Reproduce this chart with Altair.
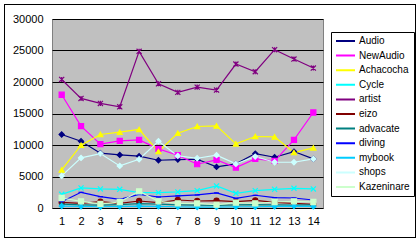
import altair as alt
import pandas as pd

periods = list(range(1, 15))

series_names = ["Audio", "NewAudio", "Achacocha", "Cycle", "artist", "eizo",
                "advacate", "diving", "mybook", "shops", "Kazeninare"]
series_colors = ["#000080", "#FF00FF", "#FFFF00", "#00FFFF", "#800080", "#800000",
                 "#008080", "#0000FF", "#00CCFF", "#CCFFFF", "#CCFFCC"]
series_shapes = ["diamond", "square", "triangle-up", "M-1,-1L1,1M-1,1L1,-1",
                 "M-1,-1L1,1M-1,1L1,-1M0,-1L0,1", "circle", "M-1,0L1,0M0,-1L0,1",
                 "M-1,0L1,0", "diamond", "diamond", "square"]

audio = [11670, 10600, 8700, 8430, 8220, 7580, 7690, 7740, 6520, 7000, 8640, 8060, 8960, 7790]
newaudio = [17980, 12990, 10130, 10660, 10820, 9390, 8380, 6950, 7640, 6420, 7790, 7480, 10820, 15160]
achacocha = [6040, 9970, 11670, 12040, 12460, 8960, 11880, 12940, 13040, 10180, 11350, 11290, 8800, 9540]
cycle = [2170, 3180, 3020, 2970, 2440, 2440, 2550, 2760, 3500, 2330, 2760, 2970, 3130, 3020]
artist = [20400, 17390, 16600, 16070, 24870, 19720, 18350, 19190, 18720, 22850, 21630, 25130, 23650, 22220]
eizo = [900, 740, 1000, 740, 1110, 850, 1270, 1110, 1170, 1000, 1220, 900, 740, 580]
advacate = [600, 500, 450, 550, 700, 600, 500, 450, 400, 500, 550, 500, 450, 500]
diving = [1000, 2490, 1800, 1380, 2170, 1750, 1910, 2070, 2390, 1540, 2020, 1640, 1590, 1270]
mybook = [300, 250, 200, 250, 300, 250, 200, 150, 150, 200, 200, 250, 300, 250]
shops = [5090, 7950, 8640, 6680, 7740, 10600, 8270, 7900, 8380, 7000, 8170, 7260, 7260, 7790]
kazeninare = [1590, 1060, 640, 950, 2650, 1060, 740, 740, 530, 850, 740, 950, 1060, 950]

all_values = [audio, newaudio, achacocha, cycle, artist, eizo, advacate, diving,
              mybook, shops, kazeninare]

rows = []
for name, vals in zip(series_names, all_values):
    for p, v in zip(periods, vals):
        rows.append({"period": p, "series": name, "value": v})
df = pd.DataFrame(rows)

FONT = "Liberation Sans"

x_enc = alt.X("period:O", title=None,
              axis=alt.Axis(labelAngle=0, domain=False, ticks=False, grid=False,
                            labelPadding=7, labelFontSize=11, labelFont=FONT,
                            labelColor="black"))
y_enc = alt.Y("value:Q", title=None,
              scale=alt.Scale(domain=[0, 30000], nice=False),
              axis=alt.Axis(values=[0, 5000, 10000, 15000, 20000, 25000, 30000],
                            format="d",
                            grid=True, gridColor="black", gridWidth=1, gridOpacity=1,
                            domain=False, ticks=False, labelPadding=9,
                            labelFontSize=11, labelFont=FONT, labelColor="black"))

base = alt.Chart(df)

lines = base.mark_line(strokeWidth=1.2).encode(
    x=x_enc,
    y=y_enc,
    color=alt.Color("series:N", scale=alt.Scale(domain=series_names, range=series_colors),
                    sort=series_names,
                    legend=alt.Legend(title=None, orient="none", legendX=279, legendY=13,
                                      fillColor="white", strokeColor="black",
                                      padding=4, symbolType="stroke", symbolSize=361,
                                      symbolStrokeWidth=2, labelFontSize=10,
                                      labelFont=FONT, labelColor="black",
                                      clipHeight=10, rowPadding=4.6, labelOffset=3)),
    detail="series:N",
)

point_layers = []
for name, col, shp in zip(series_names, series_colors, series_shapes):
    point_layers.append(
        base.transform_filter(alt.datum.series == name)
        .mark_point(filled=True, size=26, strokeWidth=1.2, fill=col, stroke=col, shape=shp,
                    opacity=1)
        .encode(x=x_enc, y=y_enc)
    )

# outer chart frame (thin filled rects in pixel units)
frame = pd.DataFrame({"a": [0]})
frame_parts = [(-48, 364, -15, -14), (-48, 364, 218, 219),
               (-48, -47, -15, 219), (363, 364, -15, 219)]
frame_layers = [
    alt.Chart(frame).mark_rect(fill="black").encode(
        x=alt.value(a), x2=alt.value(b), y=alt.value(c), y2=alt.value(d))
    for a, b, c, d in frame_parts
]

chart = alt.layer(lines, *point_layers, *frame_layers).properties(
    width=271, height=189,
    autosize=alt.AutoSizeParams(type="none"),
    padding={"left": 52, "top": 19, "right": 96, "bottom": 35},
    background="white",
).configure_view(fill="#C0C0C0", stroke="#808080", strokeWidth=1)

chart.save("out.html", embed_options={"renderer": "svg", "actions": False})
